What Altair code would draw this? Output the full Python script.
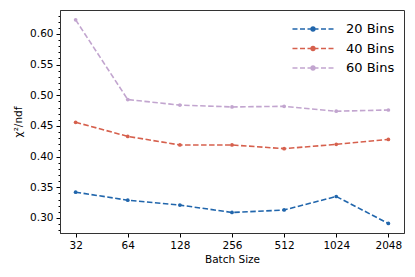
import altair as alt
import pandas as pd

batch_sizes = [32, 64, 128, 256, 512, 1024, 2048]
bins20 = [0.342, 0.329, 0.321, 0.309, 0.313, 0.335, 0.291]
bins40 = [0.456, 0.433, 0.419, 0.419, 0.413, 0.420, 0.428]
bins60 = [0.623, 0.493, 0.484, 0.481, 0.482, 0.474, 0.476]
series_names = ["20 Bins", "40 Bins", "60 Bins"]
series_colors = ["#2166ac", "#d6604d", "#c2a5cf"]
y_minor = [round(0.28 + 0.01 * i, 2) for i in range(36)]

rows = []
for name, vals in zip(series_names, [bins20, bins40, bins60]):
    for b, v in zip(batch_sizes, vals):
        rows.append({"batch": b, "value": v, "series": name})
df = pd.DataFrame(rows)

is_major = "abs(datum.value*20 - round(datum.value*20)) < 0.001"

x = alt.X(
    "batch:Q",
    scale=alt.Scale(type="log", base=2, domain=[32 / 2 ** 0.3, 2048 * 2 ** 0.3], nice=False),
    axis=alt.Axis(
        title="Batch Size", values=batch_sizes, format="d", grid=False,
        tickSize=4, labelPadding=3, titlePadding=4,
    ),
)
y = alt.Y(
    "value:Q",
    scale=alt.Scale(domain=[0.2755, 0.639], nice=False, zero=False),
    axis=alt.Axis(
        title="χ²/ndf", values=y_minor, grid=False,
        labelExpr=f"({is_major}) ? format(datum.value, '.2f') : ''",
        tickSize={"condition": {"test": is_major, "value": 4}, "value": 2},
        labelPadding=3, titlePadding=6,
    ),
)
legend_path = (
    "M-3,0H-2.27M-1.9,0H-1.17M-0.805,0H0.805M1.17,0H1.9M2.27,0H3"
    "M0.27,0A0.27,0.27,0,1,1,-0.27,0A0.27,0.27,0,1,1,0.27,0Z"
)
color = alt.Color(
    "series:N",
    scale=alt.Scale(domain=series_names, range=series_colors),
    legend=alt.Legend(
        title=None, orient="none", legendX=245, legendY=11, padding=0,
        symbolType=legend_path,
        symbolSize=187, symbolStrokeWidth=1.6, labelFontSize=13, labelOffset=25,
        rowPadding=4.5, labelFont="DejaVu Sans", labelColor="#000",
    ),
)

lines = alt.Chart(df).mark_line(strokeDash=[5.5, 2.5], strokeWidth=1.6).encode(
    x=x, y=y, color=color
)
points = alt.Chart(df).mark_point(filled=True, size=14, opacity=1).encode(
    x=x, y=y, color=alt.Color("series:N", scale=alt.Scale(domain=series_names, range=series_colors), legend=None)
)

chart = (
    alt.layer(lines, points)
    .properties(
        width=344, height=223,
        autosize=alt.AutoSizeParams(type="none"),
        padding={"left": 52, "top": 2, "right": 3, "bottom": 40},
    )
    .configure_view(stroke="#333", strokeWidth=1)
    .configure_axis(
        labelFont="DejaVu Sans", titleFont="DejaVu Sans", labelFontSize=10.5,
        titleFontSize=10.5, titleFontWeight="normal", labelColor="#000", titleColor="#000",
        tickColor="#000", domainColor="#333",
    )
)
chart.save("out.html", embed_options={"renderer": "svg", "actions": False})
